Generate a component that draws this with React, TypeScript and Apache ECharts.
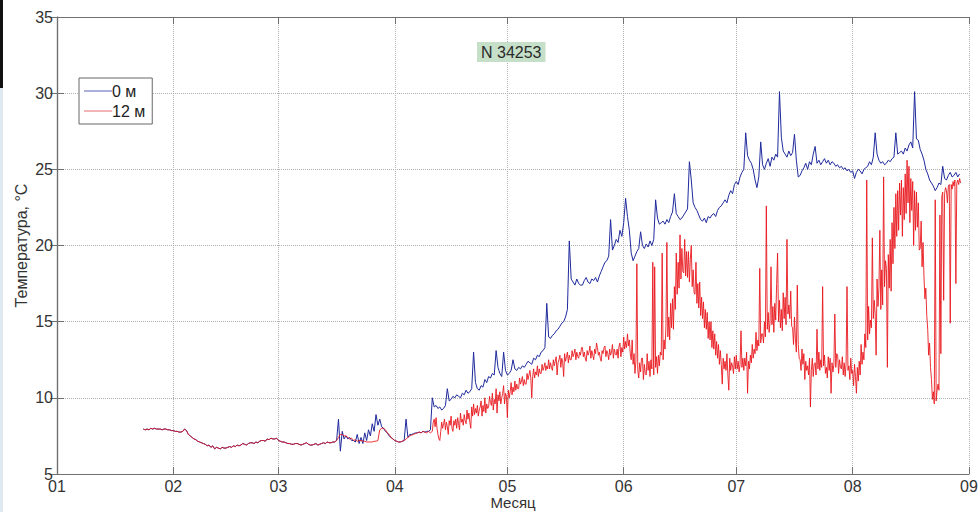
import React, { useEffect, useRef } from "react";
import * as echarts from "echarts";

// x axis: day of year (2013), ticks at the first day of each month
const monthStartDays = [0, 31, 59, 90, 120, 151, 181, 212, 243];
const monthLabels = ["01", "02", "03", "04", "05", "06", "07", "08", "09"];

// y axis ticks
const tempMin = 5;
const tempMax = 35;
const tempStep = 5;

const seriesNames = ["0 м", "12 м"];
const titleText = "N 34253";

// half-day samples from day 23; the 12 m record is quarter-day from day 100
const winterStartDay = 23;
const halfDay = 0.5;
const summerStartDay = 100;
const quarterDay = 0.25;

// both sensors, days 23 – 74.5 (identical readings)
const winterTemps = [
  7.95, 7.9, 7.95, 7.9, 8.0, 7.95, 8.0, 7.95, 7.95, 7.95,
  7.9, 7.95, 7.95, 7.9, 7.9, 7.85, 7.85, 7.8, 7.8, 7.75,
  7.75, 7.8, 7.95, 7.85, 7.6, 7.5, 7.4, 7.3, 7.25, 7.15,
  7.1, 7.05, 7.0, 6.95, 6.85, 6.9, 6.75, 6.85, 6.65, 6.75,
  6.7, 6.65, 6.75, 6.7, 6.7, 6.75, 6.8, 6.75, 6.85, 6.8,
  6.9, 6.85, 6.9, 7.0, 6.95, 6.9, 7.0, 7.05, 7.05, 7.0,
  7.1, 7.05, 7.15, 7.2, 7.2, 7.15, 7.3, 7.25, 7.35, 7.3,
  7.3, 7.35, 7.2, 7.15, 7.1, 7.1, 7.05, 7.0, 7.0, 6.95,
  6.95, 7.0, 7.0, 6.95, 6.9, 6.95, 7.0, 7.05, 6.95, 6.9,
  6.9, 6.95, 7.0, 6.9, 6.95, 7.0, 7.05, 7.0, 7.1, 7.05,
  7.05, 7.1, 7.1, 7.2,
];

// 0 m, days 75 – 240.5 (half-day)
const surfaceSpringTemps = [
  8.6, 6.5, 7.8, 7.3, 7.5, 7.3, 7.4, 7.2, 7.2, 7.1,
  7.6, 7.0, 7.4, 7.0, 7.7, 7.2, 7.9, 7.5, 8.3, 7.8,
  8.9, 8.2, 8.6, 8.1, 8.0, 7.8, 7.7, 7.5, 7.4, 7.3,
  7.2, 7.15, 7.1, 7.1, 7.15, 7.2, 8.6, 7.4, 7.6, 7.6,
  7.65, 7.7, 7.7, 7.75, 7.7, 7.8, 7.75, 7.8, 7.8, 7.9,
  10.0, 9.4, 9.5, 9.3, 9.4, 9.2, 9.3, 9.5, 10.6, 9.8,
  9.9, 10.1, 10.0, 10.2, 10.1, 10.0, 10.3, 10.2, 10.5, 10.3,
  10.4, 10.6, 13.0, 11.0, 10.6, 10.5, 10.8, 10.7, 11.2, 11.0,
  11.4, 11.3, 11.6, 11.5, 13.1, 12.0, 11.6, 11.4, 13.0, 11.8,
  11.5, 11.6, 11.8, 12.5, 11.9, 11.8, 12.0, 11.9, 12.1, 12.0,
  12.2, 12.4, 12.3, 12.2, 12.6, 12.5, 12.8, 12.7, 13.0, 13.1,
  13.3, 16.2, 14.0, 13.9, 14.1, 14.2, 14.4, 14.5, 14.7, 14.9,
  15.0, 15.3, 15.8, 20.3, 17.8, 17.6, 17.4, 17.8, 17.5, 17.4,
  17.4, 17.7, 17.9, 17.6, 17.5, 17.8, 17.7, 17.9, 17.6, 18.0,
  18.3, 18.6, 18.9, 19.0, 19.3, 21.7, 19.7, 20.0, 20.4, 20.2,
  21.0, 20.6, 21.5, 23.1, 21.9, 21.0, 19.5, 19.0, 19.3, 19.6,
  19.8, 20.9, 20.0, 19.8, 20.1, 19.9, 20.3, 20.0, 20.4, 23.0,
  21.8, 21.4, 21.5, 21.6, 21.4, 21.7, 21.5, 21.9, 22.2, 23.4,
  22.1, 21.9, 21.7, 21.8, 22.0, 22.2, 22.4, 25.5, 24.3, 22.8,
  22.5, 22.3, 22.0, 21.7, 21.6, 21.8, 21.5, 21.9, 21.8, 22.0,
  22.1, 21.9, 22.3, 22.5, 22.6, 22.8, 23.0, 22.8, 23.3, 23.6,
  23.4, 24.0, 24.2, 24.0, 24.5, 24.8, 25.0, 27.4, 25.9, 25.6,
  25.4, 25.0, 24.3, 23.8, 24.5, 26.8, 25.3, 25.0, 25.4, 25.7,
  25.2, 25.8, 25.6, 26.0, 25.8, 30.1, 27.1, 26.2, 26.0, 25.8,
  26.2, 25.9, 26.1, 27.3, 25.6, 24.5, 24.6, 24.9, 25.1, 25.4,
  25.0, 25.5, 25.3, 26.0, 26.5, 25.4, 25.6, 25.3, 25.5, 25.7,
  25.4, 25.6, 25.3, 25.5, 25.4, 25.2, 25.3, 25.1, 25.2, 25.0,
  25.1, 24.9, 25.0, 24.8, 24.9, 24.4, 24.8, 25.0, 24.9, 24.7,
  25.0, 25.1, 25.2, 25.5, 25.3, 25.8, 27.4, 26.0, 25.6, 25.4,
  25.5, 25.3, 25.4, 25.6, 25.5, 25.7, 25.8, 27.4, 26.0, 26.1,
  26.2, 26.0, 26.4, 26.2, 26.6, 26.8, 26.4, 30.1, 27.0, 26.9,
  26.3, 26.0, 25.6, 25.0, 24.7, 24.3, 24.1, 23.9, 23.6, 23.8,
  24.1, 24.0, 25.2, 24.4, 24.3, 24.6, 24.8, 24.5, 24.6, 24.8,
  24.5, 24.7,
];

// 12 m, days 75 – 99.5 (half-day)
const bottomSpringTemps = [
  7.4, 7.6, 7.6, 7.5, 7.5, 7.4, 7.3, 7.35, 7.2, 7.25,
  7.15, 7.2, 7.2, 7.15, 7.15, 7.1, 7.1, 7.1, 7.1, 7.15,
  7.15, 7.2, 7.9, 8.0, 8.0, 7.9, 7.7, 7.6, 7.4, 7.3,
  7.2, 7.15, 7.1, 7.1, 7.15, 7.2, 7.3, 7.4, 7.5, 7.55,
  7.6, 7.65, 7.7, 7.75, 7.7, 7.8, 7.75, 7.7, 7.8, 7.7,
];

// 12 m, days 100 – 240.75 (quarter-day)
const bottomSummerTemps = [
  7.8, 8.4, 8.6, 8.1, 8.7, 8.0, 7.6, 7.3, 7.2, 7.8, 8.4, 8.0, 8.3, 8.6, 7.9, 8.4, 8.1, 7.6, 8.5, 8.2,
  8.8, 8.0, 7.8, 8.5, 8.2, 8.6, 8.0, 8.7, 8.3, 7.9, 9.0, 8.4, 8.6, 8.2, 8.9, 8.5, 8.3, 9.2, 8.6, 9.0,
  8.4, 8.0, 9.4, 8.8, 9.6, 8.9, 9.3, 9.0, 9.5, 8.8, 9.2, 9.4, 9.8, 8.8, 9.5, 9.1, 10.0, 9.0, 9.6, 9.3,
  9.4, 10.1, 9.7, 9.5, 10.3, 9.2, 9.9, 9.6, 10.6, 9.0, 10.2, 9.8, 10.4, 9.6, 10.0, 10.3, 10.8, 9.6, 10.3, 10.1,
  8.7, 10.5, 10.0, 10.4, 11.0, 10.2, 10.7, 10.4, 11.1, 10.5, 10.9, 10.6, 10.6, 11.3, 10.9, 11.1, 11.4, 10.8, 11.2, 10.9,
  10.9, 11.6, 11.2, 11.5, 11.8, 11.3, 10.0, 11.4, 11.9, 11.3, 11.7, 11.5, 12.1, 11.4, 11.9, 11.6, 11.6, 12.2, 11.8, 12.0,
  12.3, 11.8, 12.1, 11.9, 12.5, 11.9, 12.3, 12.0, 11.8, 12.5, 12.1, 12.4, 12.7, 11.5, 12.3, 12.5, 12.8, 12.0, 12.6, 12.3,
  11.4, 12.9, 12.4, 12.7, 13.0, 12.3, 12.8, 12.5, 12.5, 13.1, 12.7, 12.9, 13.2, 12.5, 13.0, 12.7, 12.6, 13.0, 12.8, 13.3,
  13.3, 12.7, 13.0, 12.6, 12.4, 13.1, 12.8, 13.0, 13.4, 12.6, 13.1, 12.8, 12.5, 13.2, 12.9, 13.6, 13.3, 12.8, 13.0, 12.6,
  12.4, 13.1, 12.9, 13.3, 13.4, 12.7, 13.1, 12.9, 12.5, 13.2, 12.8, 13.0, 13.5, 12.6, 13.2, 12.9, 12.8, 13.2, 12.6, 13.4,
  13.6, 12.7, 13.3, 13.0, 14.0, 13.2, 13.7, 13.3, 14.2, 13.4, 13.8, 12.9, 12.5, 13.8, 12.2, 12.9, 11.6, 12.4, 18.8, 11.8,
  11.3, 12.3, 11.7, 12.6, 12.6, 11.2, 12.2, 11.6, 11.5, 12.9, 11.8, 12.4, 11.4, 12.5, 11.9, 18.9, 11.5, 18.6, 12.0, 12.7,
  11.6, 12.8, 12.1, 13.0, 12.8, 19.5, 12.5, 13.8, 13.2, 14.7, 20.2, 14.0, 15.3, 13.8, 16.2, 14.6, 16.5, 14.5, 17.3, 15.8,
  19.5, 16.8, 18.9, 17.2, 20.7, 17.8, 19.8, 18.3, 18.2, 20.4, 18.0, 19.6, 17.9, 19.6, 17.6, 19.1, 20.0, 17.3, 18.4, 16.9,
  16.8, 18.9, 16.2, 17.5, 15.9, 17.6, 15.4, 16.6, 15.2, 16.3, 14.6, 15.8, 14.5, 15.6, 13.9, 15.0, 13.8, 15.0, 13.3, 14.4,
  13.2, 14.2, 12.8, 13.7, 12.6, 13.5, 12.2, 13.1, 12.2, 10.9, 12.6, 11.9, 12.4, 11.8, 12.9, 11.5, 10.5, 12.6, 11.8, 12.3,
  12.1, 11.6, 12.7, 11.9, 12.8, 11.9, 12.4, 11.7, 12.2, 14.4, 12.0, 12.6, 11.8, 12.6, 12.1, 13.0, 10.3, 12.4, 11.9, 12.8,
  12.3, 13.5, 12.6, 13.2, 12.9, 14.3, 13.1, 13.8, 13.4, 18.5, 13.6, 14.2, 14.2, 13.6, 15.0, 14.0, 22.6, 14.5, 15.6, 14.3,
  15.0, 18.6, 14.8, 16.0, 14.3, 16.2, 15.1, 17.5, 19.5, 15.0, 16.4, 14.6, 15.8, 14.4, 16.9, 15.2, 16.6, 14.8, 20.4, 15.5,
  16.1, 15.2, 17.0, 14.7, 14.6, 13.5, 15.3, 13.9, 13.0, 17.4, 13.5, 12.6, 12.5, 11.8, 13.2, 12.2, 12.9, 11.2, 12.4, 11.8,
  12.1, 11.5, 12.6, 9.4, 11.8, 12.6, 11.4, 12.2, 12.3, 11.5, 14.5, 11.9, 13.0, 11.8, 12.5, 12.0, 17.3, 12.1, 12.8, 11.6,
  12.0, 11.3, 12.7, 11.8, 12.6, 10.3, 12.3, 11.7, 12.2, 15.5, 12.0, 12.9, 12.8, 11.6, 12.5, 12.0, 11.9, 12.7, 11.5, 12.3,
  11.4, 12.2, 17.3, 11.8, 12.1, 11.2, 12.6, 11.6, 11.8, 10.8, 12.2, 11.4, 10.3, 12.0, 11.1, 12.4, 11.5, 13.5, 12.2, 13.0,
  12.5, 14.2, 13.3, 24.3, 13.8, 16.0, 14.2, 15.1, 14.6, 20.5, 15.2, 16.4, 15.5, 12.8, 17.8, 16.0, 17.2, 21.0, 15.8, 18.4,
  16.1, 24.5, 17.3, 19.0, 18.5, 12.0, 19.4, 17.2, 20.4, 17.0, 21.5, 18.8, 22.5, 19.8, 23.4, 20.6, 23.6, 21.0, 24.1, 22.0,
  24.3, 20.6, 23.8, 21.7, 24.7, 22.1, 25.6, 22.8, 25.2, 21.5, 24.4, 22.3, 24.2, 20.0, 23.6, 21.0, 23.5, 21.2, 22.8, 19.7,
  19.8, 21.6, 18.6, 20.2, 18.0, 16.5, 17.2, 15.4, 14.5, 12.8, 13.6, 12.0, 11.2, 9.9, 10.4, 9.6, 23.0, 9.8, 10.5, 10.9,
  10.5, 22.0, 12.9, 23.2, 23.5, 16.4, 23.4, 23.8, 23.6, 22.8, 23.9, 24.0, 14.9, 24.0, 23.7, 24.2, 23.9, 24.3, 17.5, 24.1,
  24.3, 24.0, 24.4, 24.1,
];

const FONT = "'Liberation Sans', Arial, sans-serif";

function toPoints(temps: number[], startDay: number, stepDays: number): number[][] {
  return temps.map((t, i) => [startDay + i * stepDays, t]);
}

export default function App() {
  const ref = useRef<HTMLDivElement>(null);

  useEffect(() => {
    if (!ref.current) return;
    const chart = echarts.init(ref.current, null, { renderer: "svg" });
    const surface = toPoints([...winterTemps, ...surfaceSpringTemps], winterStartDay, halfDay);
    const bottom = [
      ...toPoints([...winterTemps, ...bottomSpringTemps], winterStartDay, halfDay),
      ...toPoints(bottomSummerTemps, summerStartDay, quarterDay),
    ];
    const monthLabel = (v: number) => {
      const i = monthStartDays.indexOf(Math.round(v));
      return i >= 0 ? monthLabels[i] : "";
    };
    const axisColor = "#707070";
    const gridLine = { show: true, lineStyle: { type: "dotted", color: "#b0b0b0", width: 1 } };
    const blue = "#1f2a9c";
    const red = "#e8161b";

    chart.setOption({
      animation: false,
      backgroundColor: "#ffffff",
      title: {
        text: titleText,
        left: 477,
        top: 42,
        padding: [2, 4, 2, 4],
        backgroundColor: "#c6dfc8",
        textStyle: { fontSize: 16, fontWeight: "normal", color: "#2a2a2a", fontFamily: FONT },
      },
      legend: {
        data: [
          { name: seriesNames[0], icon: "rect", itemStyle: { color: "#5a5fb8" } },
          { name: seriesNames[1], icon: "rect", itemStyle: { color: "#e46a6a" } },
        ],
        left: 79,
        top: 78,
        orient: "vertical",
        backgroundColor: "#ffffff",
        borderColor: "#666",
        borderWidth: 1,
        borderRadius: 0,
        padding: [5, 7, 5, 5],
        itemGap: 4,
        itemWidth: 28,
        itemHeight: 1,
        textStyle: { fontSize: 16, color: "#222", fontFamily: FONT, padding: [0, 0, 0, -5] },
      },
      grid: { left: 57, right: 10, top: 17, bottom: 38, containLabel: false, outerBoundsMode: "none" },
      xAxis: [
        {
          type: "value",
          min: monthStartDays[0],
          max: monthStartDays[monthStartDays.length - 1],
          position: "bottom",
          name: "Месяц",
          nameLocation: "middle",
          nameGap: 20,
          nameMoveOverlap: false,
          nameTextStyle: { fontSize: 15, color: "#333", fontFamily: FONT, lineHeight: 16, verticalAlign: "top" },
          axisLine: { show: true, lineStyle: { color: axisColor, width: 1.2 } },
          axisTick: { show: true, inside: true, length: 7, customValues: monthStartDays, lineStyle: { color: axisColor } },
          axisLabel: {
            customValues: monthStartDays,
            formatter: monthLabel,
            fontSize: 16,
            lineHeight: 16,
            color: "#333",
            margin: 4,
            fontFamily: FONT,
            showMinLabel: true,
            showMaxLabel: true,
          },
          splitLine: gridLine,
        },
        {
          type: "value",
          min: monthStartDays[0],
          max: monthStartDays[monthStartDays.length - 1],
          position: "top",
          axisLine: { show: true, lineStyle: { color: axisColor, width: 1.2 } },
          axisTick: { show: true, inside: true, length: 7, customValues: monthStartDays, lineStyle: { color: axisColor } },
          axisLabel: { show: false },
          splitLine: { show: false },
        },
      ],
      yAxis: [
        {
          type: "value",
          min: tempMin,
          max: tempMax,
          interval: tempStep,
          position: "left",
          name: "Температура, °C",
          nameLocation: "middle",
          nameGap: 28,
          nameMoveOverlap: false,
          nameTextStyle: { fontSize: 16, color: "#333", fontFamily: FONT },
          axisLine: { show: true, lineStyle: { color: axisColor, width: 1.2 } },
          axisTick: { show: true, inside: true, length: 7, lineStyle: { color: axisColor } },
          axisLabel: { fontSize: 16, color: "#333", margin: 4, fontFamily: FONT },
          splitLine: gridLine,
        },
        {
          type: "value",
          min: tempMin,
          max: tempMax,
          interval: tempStep,
          position: "right",
          axisLine: { show: true, lineStyle: { color: axisColor, width: 1.2 } },
          axisTick: { show: true, inside: true, length: 7, lineStyle: { color: axisColor } },
          axisLabel: { show: false },
          splitLine: { show: false },
        },
      ],
      series: [
        {
          name: seriesNames[0],
          type: "line",
          data: surface,
          xAxisIndex: 0,
          yAxisIndex: 0,
          symbol: "none",
          showSymbol: false,
          lineStyle: { color: blue, width: 1 },
          itemStyle: { color: blue },
          z: 2,
        },
        {
          name: seriesNames[1],
          type: "line",
          data: bottom,
          xAxisIndex: 0,
          yAxisIndex: 0,
          symbol: "none",
          showSymbol: false,
          lineStyle: { color: red, width: 1, opacity: 0.88 },
          itemStyle: { color: red },
          z: 3,
        },
      ],
      graphic: [
        { type: "rect", left: 0, top: 0, shape: { width: 3, height: 88 }, style: { fill: "#111" }, z: 100 },
        { type: "rect", left: 0, top: 88, shape: { width: 3, height: 424 }, style: { fill: "#dfe9ef" }, z: 100 },
      ],
    });

    return () => chart.dispose();
  }, []);

  return (
    <div
      ref={ref}
      style={{ position: "fixed", left: 0, top: 0, width: 979, height: 512, background: "#fff" }}
    />
  );
}
